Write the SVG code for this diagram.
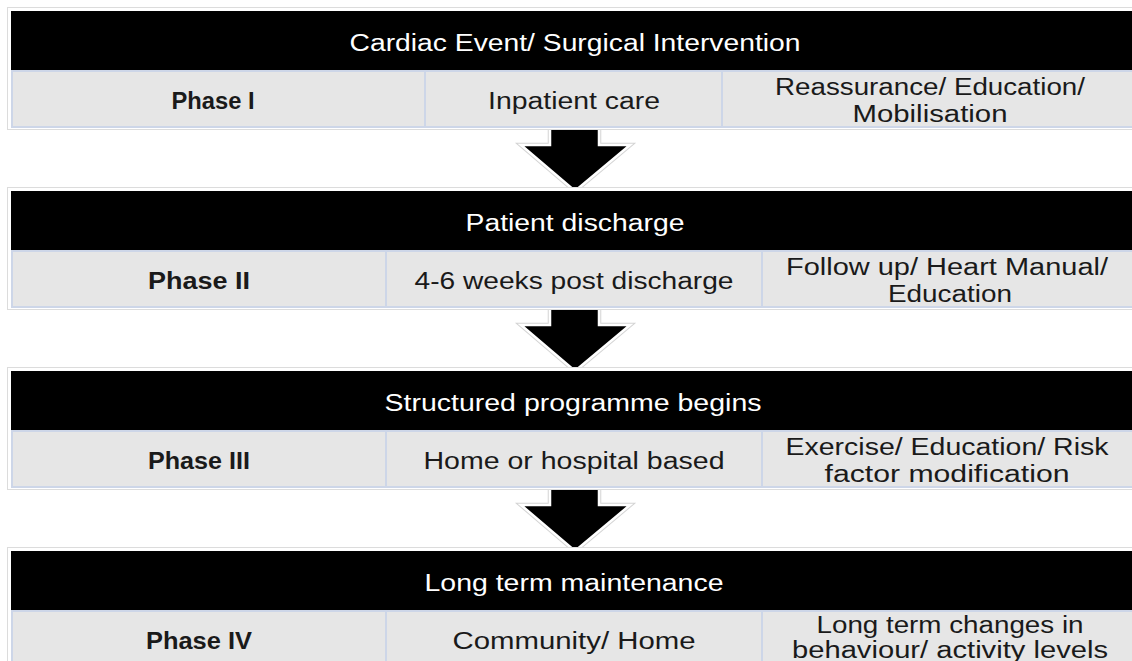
<svg xmlns="http://www.w3.org/2000/svg" width="1132" height="661" viewBox="0 0 1132 661">
<defs>
<style>
.frame{fill:#ffffff;stroke:#dcdcdc;stroke-width:1}
.bar{fill:#000000}
.cell{fill:#e6e6e6;stroke:#cdd6e8;stroke-width:2}
.t{font-family:"Liberation Sans",Arial,sans-serif;font-size:23.5px;text-anchor:middle}
.w{fill:#ffffff}
.k{fill:#1a1a1a}
.b{font-weight:bold}
.arrow{fill:#000000;stroke:#ffffff;stroke-width:2.5;stroke-linejoin:miter}
.arrowo{fill:none;stroke:#d4d4d4;stroke-width:4.5;stroke-linejoin:miter}
</style>
<path id="arr" d="M550,128 L599,128 L599,145 L630,145 L575,191 L521,145 L550,145 Z"/>
</defs>
<rect width="1132" height="661" fill="#ffffff"/>

<g id="connectors">
<use href="#arr" class="arrowo"/>
<use href="#arr" class="arrow"/>
<use href="#arr" class="arrowo" y="180"/>
<use href="#arr" class="arrow" y="180"/>
<use href="#arr" class="arrowo" y="360"/>
<use href="#arr" class="arrow" y="360"/>
</g>

<g id="block1">
<rect class="frame" x="7.5" y="7.5" width="1130" height="122"/>
<rect class="bar" x="11" y="11" width="1121" height="59"/>
<text class="t w" x="575" y="51" textLength="451" lengthAdjust="spacingAndGlyphs">Cardiac Event/ Surgical Intervention</text>
<rect class="cell" x="12" y="71" width="413" height="56"/>
<rect class="cell" x="425" y="71" width="297" height="56"/>
<rect class="cell" x="722" y="71" width="415" height="56"/>
<text class="t k b" x="213" y="109" textLength="83" lengthAdjust="spacingAndGlyphs">Phase I</text>
<text class="t k" x="574" y="109" textLength="172" lengthAdjust="spacingAndGlyphs">Inpatient care</text>
<text class="t k" x="930" y="95" textLength="310" lengthAdjust="spacingAndGlyphs">Reassurance/ Education/</text>
<text class="t k" x="930" y="122" textLength="155" lengthAdjust="spacingAndGlyphs">Mobilisation</text>
</g>

<g id="block2">
<rect class="frame" x="7.5" y="187.5" width="1130" height="122"/>
<rect class="bar" x="11" y="191" width="1121" height="59"/>
<text class="t w" x="575" y="231" textLength="219" lengthAdjust="spacingAndGlyphs">Patient discharge</text>
<rect class="cell" x="12" y="251" width="374" height="56"/>
<rect class="cell" x="386" y="251" width="376" height="56"/>
<rect class="cell" x="762" y="251" width="375" height="56"/>
<text class="t k b" x="199" y="289" textLength="102" lengthAdjust="spacingAndGlyphs">Phase II</text>
<text class="t k" x="574" y="289" textLength="319" lengthAdjust="spacingAndGlyphs">4-6 weeks post discharge</text>
<text class="t k" x="947" y="275" textLength="322" lengthAdjust="spacingAndGlyphs">Follow up/ Heart Manual/</text>
<text class="t k" x="950" y="302" textLength="124" lengthAdjust="spacingAndGlyphs">Education</text>
</g>

<g id="block3">
<rect class="frame" x="7.5" y="367.5" width="1130" height="122"/>
<rect class="bar" x="11" y="371" width="1121" height="59"/>
<text class="t w" x="573" y="411" textLength="377" lengthAdjust="spacingAndGlyphs">Structured programme begins</text>
<rect class="cell" x="12" y="431" width="374" height="56"/>
<rect class="cell" x="386" y="431" width="376" height="56"/>
<rect class="cell" x="762" y="431" width="375" height="56"/>
<text class="t k b" x="199" y="469" textLength="102" lengthAdjust="spacingAndGlyphs">Phase III</text>
<text class="t k" x="574" y="469" textLength="301" lengthAdjust="spacingAndGlyphs">Home or hospital based</text>
<text class="t k" x="947" y="455" textLength="323" lengthAdjust="spacingAndGlyphs">Exercise/ Education/ Risk</text>
<text class="t k" x="947" y="482" textLength="245" lengthAdjust="spacingAndGlyphs">factor modification</text>
</g>

<g id="block4">
<rect class="frame" x="7.5" y="547.5" width="1130" height="122"/>
<rect class="bar" x="11" y="551" width="1121" height="59"/>
<text class="t w" x="574" y="591" textLength="299" lengthAdjust="spacingAndGlyphs">Long term maintenance</text>
<rect class="cell" x="12" y="611" width="374" height="56"/>
<rect class="cell" x="386" y="611" width="376" height="56"/>
<rect class="cell" x="762" y="611" width="375" height="56"/>
<text class="t k b" x="199" y="649" textLength="106" lengthAdjust="spacingAndGlyphs">Phase IV</text>
<text class="t k" x="574" y="649" textLength="243" lengthAdjust="spacingAndGlyphs">Community/ Home</text>
<text class="t k" x="950" y="633" textLength="267" lengthAdjust="spacingAndGlyphs">Long term changes in</text>
<text class="t k" x="950" y="658" textLength="316" lengthAdjust="spacingAndGlyphs">behaviour/ activity levels</text>
</g>
</svg>
